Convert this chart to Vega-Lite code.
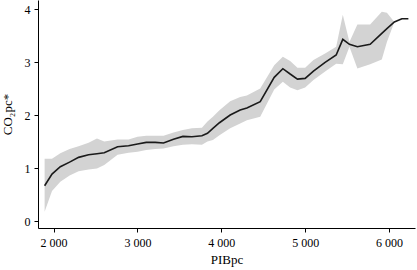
{
  "$schema": "https://vega.github.io/schema/vega-lite/v6.json",
  "width": 377,
  "height": 228,
  "autosize": {"type": "none"},
  "padding": {"left": 38, "top": 0, "right": 2, "bottom": 42},
  "background": "white",
  "config": {
    "view": {"stroke": null},
    "font": "Liberation Serif",
    "axis": {"grid": false, "domainColor": "black", "tickColor": "black", "labelColor": "black", "titleColor": "black", "labelFont": "Liberation Serif", "titleFont": "Liberation Serif", "labelFontSize": 12, "titleFontSize": 13, "titleFontWeight": "normal", "tickSize": 4, "domainWidth": 1, "tickWidth": 1}
  },
  "data": {"values": [
    {"x": 1893, "y": 0.666, "lo": 0.175, "hi": 1.175},
    {"x": 1981, "y": 0.887, "lo": 0.57, "hi": 1.175},
    {"x": 2080, "y": 1.025, "lo": 0.74, "hi": 1.28},
    {"x": 2191, "y": 1.113, "lo": 0.86, "hi": 1.36},
    {"x": 2298, "y": 1.202, "lo": 0.94, "hi": 1.41},
    {"x": 2417, "y": 1.251, "lo": 0.975, "hi": 1.48},
    {"x": 2517, "y": 1.27, "lo": 0.99, "hi": 1.56},
    {"x": 2604, "y": 1.289, "lo": 1.06, "hi": 1.5},
    {"x": 2763, "y": 1.402, "lo": 1.25, "hi": 1.54},
    {"x": 2894, "y": 1.421, "lo": 1.29, "hi": 1.54},
    {"x": 3001, "y": 1.453, "lo": 1.31, "hi": 1.59},
    {"x": 3105, "y": 1.485, "lo": 1.34, "hi": 1.61},
    {"x": 3212, "y": 1.485, "lo": 1.36, "hi": 1.61},
    {"x": 3311, "y": 1.472, "lo": 1.37, "hi": 1.61},
    {"x": 3430, "y": 1.542, "lo": 1.41, "hi": 1.67},
    {"x": 3542, "y": 1.598, "lo": 1.44, "hi": 1.72},
    {"x": 3650, "y": 1.591, "lo": 1.45, "hi": 1.75},
    {"x": 3769, "y": 1.609, "lo": 1.44, "hi": 1.76},
    {"x": 3835, "y": 1.655, "lo": 1.5, "hi": 1.88},
    {"x": 3900, "y": 1.749, "lo": 1.53, "hi": 1.97},
    {"x": 3978, "y": 1.855, "lo": 1.62, "hi": 2.09},
    {"x": 4106, "y": 2.0, "lo": 1.75, "hi": 2.26},
    {"x": 4225, "y": 2.094, "lo": 1.84, "hi": 2.34},
    {"x": 4305, "y": 2.132, "lo": 1.9, "hi": 2.37},
    {"x": 4464, "y": 2.251, "lo": 1.97, "hi": 2.5},
    {"x": 4631, "y": 2.711, "lo": 2.48, "hi": 2.94},
    {"x": 4734, "y": 2.874, "lo": 2.63, "hi": 3.1},
    {"x": 4821, "y": 2.774, "lo": 2.52, "hi": 3.02},
    {"x": 4908, "y": 2.679, "lo": 2.47, "hi": 2.89},
    {"x": 5000, "y": 2.692, "lo": 2.52, "hi": 2.89},
    {"x": 5099, "y": 2.83, "lo": 2.66, "hi": 3.04},
    {"x": 5238, "y": 2.994, "lo": 2.82, "hi": 3.16},
    {"x": 5370, "y": 3.132, "lo": 2.97, "hi": 3.29},
    {"x": 5449, "y": 3.428, "lo": 2.96, "hi": 3.89},
    {"x": 5528, "y": 3.334, "lo": 3.29, "hi": 3.38},
    {"x": 5623, "y": 3.289, "lo": 2.88, "hi": 3.71},
    {"x": 5775, "y": 3.334, "lo": 2.96, "hi": 3.71},
    {"x": 5914, "y": 3.542, "lo": 3.05, "hi": 3.95},
    {"x": 5975, "y": 3.63, "lo": 3.38, "hi": 3.93},
    {"x": 6064, "y": 3.755, "lo": 3.755, "hi": 3.755},
    {"x": 6153, "y": 3.817, "lo": 3.817, "hi": 3.817},
    {"x": 6231, "y": 3.817, "lo": 3.817, "hi": 3.817}
  ]},
  "encoding": {
    "x": {"field": "x", "type": "quantitative", "title": "PIBpc",
      "scale": {"domain": [1814, 6310], "nice": false, "zero": false},
      "axis": {"values": [2000, 3000, 4000, 5000, 6000], "labelExpr": "replace(format(datum.value, ','), ',', ' ')", "labelPadding": 5, "titlePadding": 5}}
  },
  "layer": [
    {
      "mark": {"type": "area", "color": "#d3d3d3", "opacity": 1},
      "encoding": {
        "y": {"field": "lo", "type": "quantitative", "title": "CO₂pc*",
          "scale": {"domain": [-0.13, 4.17], "nice": false, "zero": false},
          "axis": {"values": [0, 1, 2, 3, 4], "labelPadding": 4, "titlePadding": 10}},
        "y2": {"field": "hi"}
      }
    },
    {
      "mark": {"type": "line", "color": "#1a1a1a", "strokeWidth": 1.6},
      "encoding": {
        "y": {"field": "y", "type": "quantitative"}
      }
    }
  ]
}
